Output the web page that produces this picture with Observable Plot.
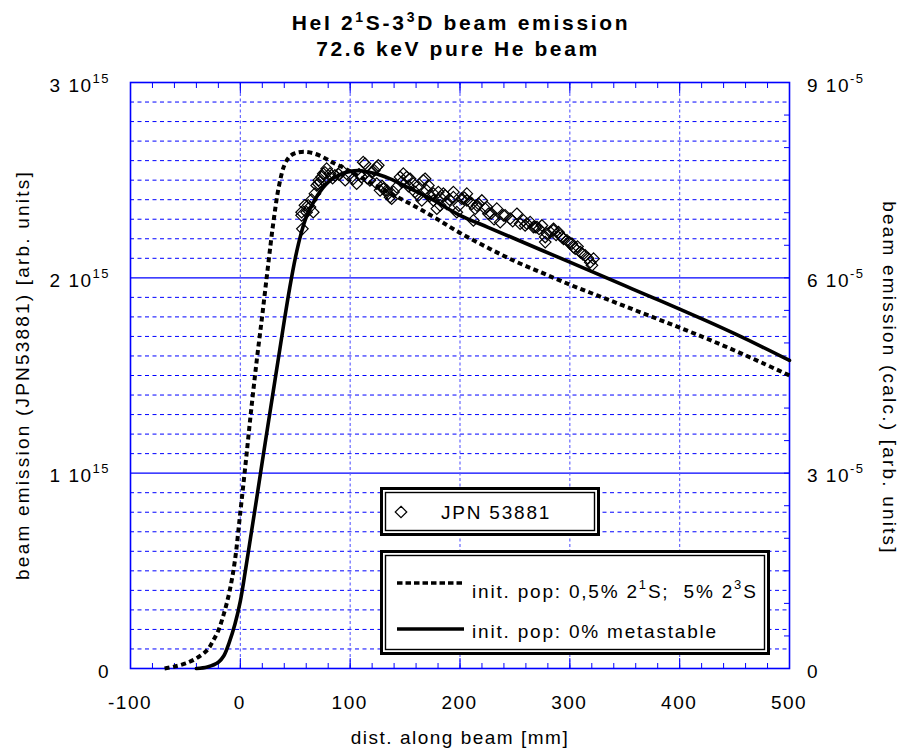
<!DOCTYPE html>
<html>
<head>
<meta charset="utf-8">
<script src="https://cdn.jsdelivr.net/npm/d3@7"></script>
<script src="https://cdn.jsdelivr.net/npm/@observablehq/plot@0.6"></script>
<style>
  body { margin: 0; background: #fff; }
  svg { display: block; }
</style>
</head>
<body>
<div id="chart"></div>
<script>
// ---------- data (y values in units of 10^15) ----------
const xTicks = [-100, 0, 100, 200, 300, 400, 500];
const yLeftTicks = [0, 1, 2, 3];            // x 10^15
const yLeftLabels = [["0", null], ["1 10", "15"], ["2 10", "15"], ["3 10", "15"]];
const yRightLabels = [["0", null], ["3 10", "-5"], ["6 10", "-5"], ["9 10", "-5"]];

// calculated curve: init. pop 0,5% 2^1S; 5% 2^3S (dashed)
const dashedX = [-69, -60, -50, -40, -30, -25, -20, -15, -10, -5, 0, 5, 10, 15, 20, 25, 30, 35, 40, 45, 50, 58, 68, 78, 85, 93, 100, 120, 140, 160, 180, 200, 225, 250, 275, 300, 325, 350, 375, 400, 425, 450, 475, 500];
const dashedY = [0, 0.01, 0.026, 0.052, 0.095, 0.14, 0.195, 0.28, 0.39, 0.55, 0.80, 1.06, 1.33, 1.58, 1.81, 2.05, 2.28, 2.465, 2.575, 2.622, 2.638, 2.645, 2.635, 2.61, 2.588, 2.566, 2.545, 2.482, 2.422, 2.363, 2.298, 2.23, 2.155, 2.085, 2.025, 1.965, 1.91, 1.855, 1.80, 1.745, 1.688, 1.628, 1.565, 1.50];

// calculated curve: init. pop 0% metastable (solid)
const solidX = [-40, -30, -20, -15, -10, -5, 0, 5, 10, 15, 20, 25, 30, 35, 40, 45, 50, 55, 60, 70, 80, 90, 100, 110, 125, 137, 150, 175, 200, 225, 250, 275, 300, 325, 350, 375, 400, 425, 450, 475, 500];
const solidY = [0, 0.008, 0.032, 0.065, 0.135, 0.225, 0.345, 0.515, 0.695, 0.875, 1.06, 1.24, 1.42, 1.60, 1.78, 1.95, 2.10, 2.22, 2.31, 2.42, 2.49, 2.527, 2.545, 2.548, 2.53, 2.505, 2.47, 2.40, 2.32, 2.26, 2.20, 2.14, 2.08, 2.02, 1.96, 1.90, 1.84, 1.778, 1.714, 1.647, 1.577];

// measurement JPN 53881
const jpnX = [56.5, 55.8, 55.8, 58.8, 60.3, 61.8, 63.4, 66.4, 67.9, 69.5, 70.9, 72.5, 74.0, 75.5, 78.6, 81.6, 86.1, 92.3, 98.3, 102.8, 105.9, 110.5, 111.9, 113.5, 118.0, 119.6, 124.2, 125.6, 124.2, 127.2, 130.2, 133.3, 134.7, 136.3, 137.8, 142.4, 145.4, 148.4, 151.5, 154.5, 157.5, 160.6, 162.1, 165.2, 166.6, 168.2, 169.7, 171.2, 175.8, 175.8, 178.9, 180.3, 181.9, 181.9, 184.9, 186.4, 188.0, 194.0, 194.0, 197.1, 201.6, 206.2, 206.2, 209.2, 210.8, 212.2, 213.8, 216.8, 219.9, 222.9, 224.4, 225.9, 233.5, 236.6, 239.6, 241.1, 245.7, 251.8, 254.8, 257.8, 259.3, 260.9, 263.9, 266.9, 268.5, 270.0, 274.6, 277.6, 277.6, 279.1, 282.1, 285.1, 285.1, 289.7, 291.2, 292.8, 294.3, 297.4, 301.9, 303.4, 304.9, 309.5, 314.0, 318.6, 320.1, 321.6, 64.8, 71.5, 77.0, 84.0, 89.5, 95.5, 108.0, 115.5, 122.0, 129.0, 139.5, 147.0, 153.0, 159.0, 172.5, 190.5, 199.0, 204.0, 215.5, 228.5, 231.0, 248.0, 272.0, 287.5, 299.5, 307.0, 312.0, 316.5];
const jpnY = [2.251, 2.320, 2.336, 2.371, 2.336, 2.371, 2.362, 2.336, 2.431, 2.473, 2.482, 2.490, 2.516, 2.533, 2.559, 2.533, 2.524, 2.550, 2.524, 2.507, 2.482, 2.516, 2.592, 2.584, 2.499, 2.541, 2.567, 2.576, 2.482, 2.448, 2.456, 2.448, 2.431, 2.413, 2.405, 2.464, 2.516, 2.533, 2.516, 2.507, 2.482, 2.464, 2.422, 2.396, 2.499, 2.507, 2.448, 2.473, 2.431, 2.396, 2.354, 2.439, 2.413, 2.371, 2.431, 2.422, 2.379, 2.439, 2.413, 2.336, 2.405, 2.431, 2.396, 2.388, 2.379, 2.294, 2.354, 2.379, 2.396, 2.354, 2.362, 2.328, 2.354, 2.285, 2.320, 2.320, 2.303, 2.328, 2.277, 2.294, 2.268, 2.277, 2.285, 2.260, 2.260, 2.260, 2.268, 2.183, 2.209, 2.226, 2.234, 2.251, 2.243, 2.234, 2.217, 2.209, 2.200, 2.192, 2.175, 2.157, 2.149, 2.132, 2.115, 2.080, 2.064, 2.098, 2.40, 2.50, 2.54, 2.51, 2.53, 2.50, 2.53, 2.51, 2.55, 2.47, 2.44, 2.49, 2.47, 2.44, 2.42, 2.40, 2.37, 2.41, 2.37, 2.33, 2.30, 2.29, 2.25, 2.22, 2.18, 2.16, 2.12, 2.10];

const dashed = dashedX.map((x, i) => ({x, y: dashedY[i]}));
const solid = solidX.map((x, i) => ({x, y: solidY[i]}));
const jpn = jpnX.map((x, i) => ({x, y: jpnY[i]}));

const BLUE = "#0000ff";
const minorY = d3.range(1, 30).map(d => d / 10).filter(d => Math.abs(d - 1) > 1e-6 && Math.abs(d - 2) > 1e-6);
const minorX = d3.range(-100, 501, 20);
const rightTicks = d3.range(0, 19).map(d => d / 6);

const chart = Plot.plot({
  width: 900,
  height: 749,
  marginLeft: 130,
  marginRight: 111,
  marginTop: 82,
  marginBottom: 81,
  style: {background: "white", fontFamily: "'Liberation Sans', Arial, sans-serif"},
  x: {domain: [-100, 500], axis: null},
  y: {domain: [0, 3], axis: null},
  marks: [
    Plot.ruleY(minorY, {stroke: BLUE, strokeWidth: 1, strokeDasharray: "4,3.5"}),
    Plot.ruleY([1, 2], {stroke: BLUE, strokeWidth: 1.2}),
    Plot.ruleX([0, 100, 200, 300, 400], {stroke: "#5a5aff", strokeWidth: 1.1, strokeDasharray: "3,2.5"}),
    Plot.axisX(minorX, {anchor: "bottom", tickSize: -5, fill: "none", stroke: BLUE, label: null}),
    Plot.axisX(minorX, {anchor: "top", tickSize: -5, fill: "none", stroke: BLUE, label: null}),
    Plot.axisX(xTicks, {anchor: "bottom", tickSize: -10, fill: "none", stroke: BLUE, label: null}),
    Plot.axisX(xTicks, {anchor: "top", tickSize: -10, fill: "none", stroke: BLUE, label: null}),
    Plot.axisY(rightTicks, {anchor: "right", tickSize: -6, fill: "none", stroke: BLUE, label: null}),
    Plot.frame({stroke: BLUE, strokeWidth: 1.6}),
    Plot.dot(jpn, {x: "x", y: "y", symbol: "diamond2", r: 5.2, stroke: "black", strokeWidth: 1.2, fill: "none"}),
    Plot.line(dashed, {x: "x", y: "y", stroke: "black", strokeWidth: 4, strokeDasharray: "5,3.5", strokeLinecap: "butt", strokeLinejoin: "miter", curve: "catmull-rom"}),
    Plot.line(solid, {x: "x", y: "y", stroke: "black", strokeWidth: 3.6, curve: "catmull-rom"})
  ]
});
document.getElementById("chart").appendChild(chart);

// ---------- text and legend ----------
const svg = d3.select(chart);
function scaleFn(s) {
  return s.apply ? (v) => s.apply(v)
    : (v) => s.range[0] + (v - s.domain[0]) / (s.domain[1] - s.domain[0]) * (s.range[1] - s.range[0]);
}
const sx = scaleFn(chart.scale("x"));
const sy = scaleFn(chart.scale("y"));
const FONT = "'Liberation Sans', Arial, Helvetica, sans-serif";

// parts: strings or {sup, size, rise}
function txt(x, y, parts, o = {}) {
  const t = svg.append("text")
    .attr("x", x).attr("y", y)
    .attr("font-family", FONT)
    .attr("font-size", o.size || 19)
    .attr("font-weight", o.weight || "normal")
    .attr("letter-spacing", o.ls ?? 1.5)
    .attr("text-anchor", o.anchor || "middle")
    .attr("fill", "black");
  if (o.rotate) t.attr("transform", `rotate(${o.rotate},${x},${y})`);
  let pending = 0;
  for (const p of parts) {
    if (typeof p === "string") {
      const s = t.append("tspan").text(p);
      if (pending) { s.attr("dy", pending); pending = 0; }
    } else {
      t.append("tspan").attr("font-size", p.size).attr("dy", -p.rise - pending).text(p.sup);
      pending = p.rise;
    }
  }
  return t;
}

// title
txt(461, 30, ["HeI 2", {sup: "1", size: 14, rise: 8}, "S-3", {sup: "3", size: 14, rise: 8}, "D beam emission"], {size: 21, weight: "bold", ls: 2.7});
txt(458, 55.5, ["72.6 keV pure He beam"], {size: 21, weight: "bold", ls: 2.6});

// x tick labels
for (const v of xTicks) txt(sx(v), 709, [String(v)], {size: 19, ls: 1.5});
// x title
txt(460, 744, ["dist. along beam [mm]"], {size: 19, ls: 1.5});

// left tick labels
yLeftTicks.forEach((v, i) => {
  const [m, e] = yLeftLabels[i];
  const parts = e ? [m, {sup: e, size: 13, rise: 9}] : [m];
  txt(110, sy(v) + 9.5, parts, {anchor: "end", size: 19, ls: 1.5});
});
// right tick labels
yLeftTicks.forEach((v, i) => {
  const [m, e] = yRightLabels[i];
  const parts = e ? [m, {sup: e, size: 13, rise: 9}] : [m];
  txt(807, sy(v) + 9.5, parts, {anchor: "start", size: 19, ls: 1.5});
});

// axis titles
txt(29, 375, ["beam emission (JPN53881) [arb. units]"], {size: 19, ls: 2.2, rotate: -90});
txt(883, 378, ["beam emission (calc.) [arb. units]"], {size: 19, ls: 2.2, rotate: 90});

// legends
function dblBox(x, y, w, h) {
  svg.append("rect").attr("x", x + 1.5).attr("y", y + 1.5).attr("width", w - 3).attr("height", h - 3)
    .attr("fill", "white").attr("stroke", "black").attr("stroke-width", 3);
  svg.append("rect").attr("x", x + 5.5).attr("y", y + 5.5).attr("width", w - 11).attr("height", h - 11)
    .attr("fill", "none").attr("stroke", "black").attr("stroke-width", 1.4);
}
dblBox(380, 487, 220, 49);
svg.append("path")
  .attr("d", d3.symbol().type(d3.symbolDiamond2).size(Math.PI * 5.2 * 5.2)())
  .attr("transform", "translate(401,512)")
  .attr("fill", "none").attr("stroke", "black").attr("stroke-width", 1.2);
txt(441, 519, ["JPN 53881"], {anchor: "start", size: 19, ls: 1.8});

dblBox(380, 550, 390, 105);
svg.append("line").attr("x1", 397).attr("x2", 464).attr("y1", 583).attr("y2", 583)
  .attr("stroke", "black").attr("stroke-width", 3.4).attr("stroke-dasharray", "5.5,3");
svg.append("line").attr("x1", 397).attr("x2", 464).attr("y1", 629).attr("y2", 629)
  .attr("stroke", "black").attr("stroke-width", 3.4);
txt(472, 598, ["init. pop: 0,5% 2", {sup: "1", size: 13, rise: 9}, "S;  5% 2", {sup: "3", size: 13, rise: 9}, "S"], {anchor: "start", size: 19, ls: 1.8});
txt(472, 638, ["init. pop: 0% metastable"], {anchor: "start", size: 19, ls: 1.8});
</script>
</body>
</html>
